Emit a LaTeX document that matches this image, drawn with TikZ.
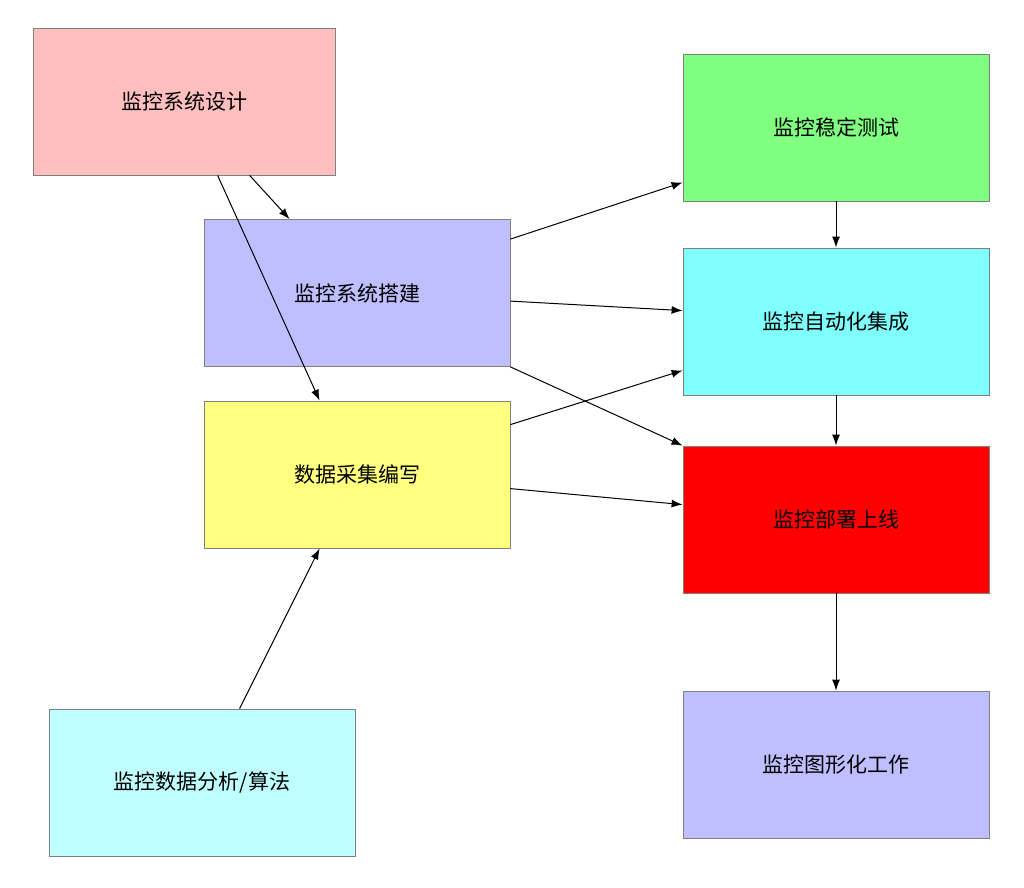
\documentclass[tikz,border=0pt]{standalone}
\usepackage{fontspec}
\setmainfont{Noto Sans CJK SC}
\usetikzlibrary{arrows.meta,calc}
\definecolor{cA}{HTML}{FFBFBF}
\definecolor{cB}{HTML}{BFBFFF}
\definecolor{cC}{HTML}{FFFF80}
\definecolor{cD}{HTML}{BFFFFF}
\definecolor{cE}{HTML}{80FF80}
\definecolor{cF}{HTML}{80FFFF}
\definecolor{cG}{HTML}{FF0000}
\definecolor{bord}{HTML}{808080}
\tikzset{
  box/.style={draw=bord,line width=0.8pt,minimum width=306pt,minimum height=147pt,inner sep=0pt,font=\fontsize{21pt}{24pt}\selectfont},
  arr/.style={line width=1pt,-{Latex[length=11pt,width=8pt]}}
}
\begin{document}
\begin{tikzpicture}[x=1pt,y=1pt]
\useasboundingbox (0,0) rectangle (1024,887);
\node[box,fill=cA,minimum width=302pt] (A) at (184,785.5) {监控系统设计};
\node[box,fill=cB] (B) at (357,594) {监控系统搭建};
\node[box,fill=cC] (C) at (357,412.5) {数据采集编写};
\node[box,fill=cD] (D) at (202,104.5) {监控数据分析/算法};
\node[box,fill=cE] (E) at (836,759.5) {监控稳定测试};
\node[box,fill=cF] (F) at (836,565.5) {监控自动化集成};
\node[box,fill=cG] (G) at (836,367.5) {监控部署上线};
\node[box,fill=cB] (H) at (836,122.5) {监控图形化工作};
\draw[arr] ($(A.south west)+(217,0)$) -- ($(B.north west)+(86,0)$);
\draw[arr] ($(A.south west)+(185,0)$) -- ($(C.north west)+(116,0)$);
\draw[arr] ($(B.north east)+(0,-20)$) -- ($(E.south west)+(0,19)$);
\draw[arr] ($(B.north east)+(0,-82)$) -- ($(F.north west)+(0,-63)$);
\draw[arr] (B.south east) -- (G.north west);
\draw[arr] ($(C.north east)+(0,-24)$) -- ($(F.south west)+(0,25)$);
\draw[arr] ($(C.north east)+(0,-88)$) -- ($(G.north west)+(0,-59)$);
\draw[arr] ($(D.north west)+(191,0)$) -- ($(C.south west)+(116,0)$);
\draw[arr] (E.south) -- (F.north);
\draw[arr] (F.south) -- (G.north);
\draw[arr] (G.south) -- (H.north);
\end{tikzpicture}
\end{document}
